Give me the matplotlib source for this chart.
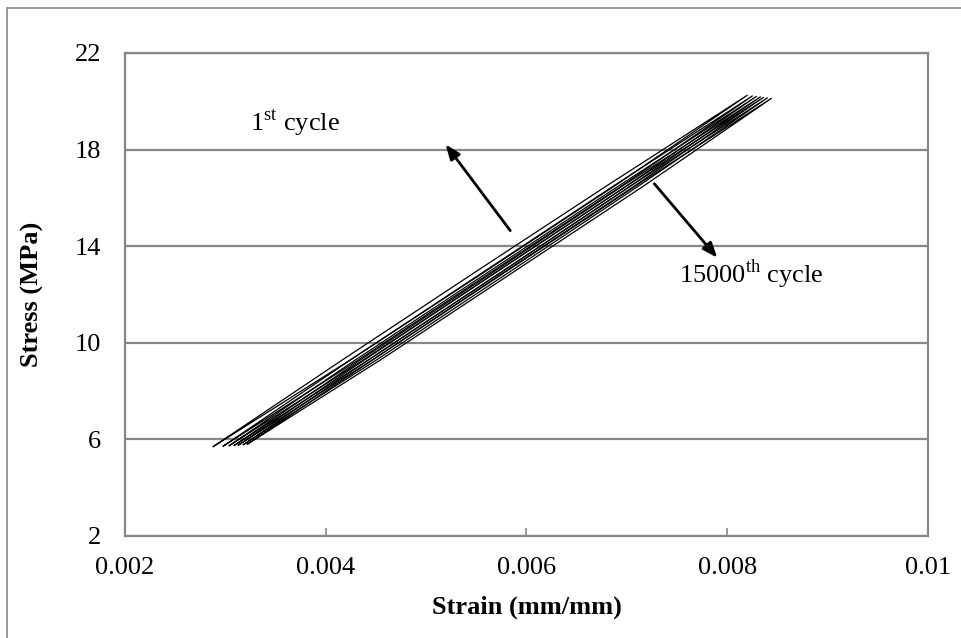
import numpy as np
import matplotlib
matplotlib.use("Agg")
import matplotlib.pyplot as plt
from matplotlib.patches import Rectangle

plt.rcParams['font.family'] = ['Liberation Serif', 'DejaVu Serif']
plt.rcParams['mathtext.fontset'] = 'custom'
plt.rcParams['mathtext.rm'] = 'Liberation Serif'

e_min = [0.00288, 0.00298, 0.00304, 0.00309, 0.00313, 0.00318, 0.00322]
s_min = [5.70, 5.72, 5.74, 5.75, 5.76, 5.78, 5.80]
e_max = [0.00820, 0.00825, 0.00829, 0.00833, 0.00836, 0.00840, 0.00844]
s_max = [20.25, 20.22, 20.20, 20.18, 20.16, 20.14, 20.12]

# intermediate stress levels and the strains on loading / unloading branches
s_mid = [9.3, 12.9, 16.5]
e_load = [
    [0.00425, 0.00557, 0.00688],
    [0.00433, 0.00564, 0.00695],
    [0.00438, 0.00569, 0.00700],
    [0.00443, 0.00574, 0.00704],
    [0.00447, 0.00577, 0.00708],
    [0.00451, 0.00582, 0.00712],
    [0.00455, 0.00586, 0.00717],
]
e_unload = [
    [0.00417, 0.00548, 0.00680],
    [0.00425, 0.00556, 0.00687],
    [0.00430, 0.00561, 0.00692],
    [0.00435, 0.00566, 0.00696],
    [0.00439, 0.00569, 0.00700],
    [0.00443, 0.00574, 0.00704],
    [0.00447, 0.00578, 0.00709],
]

x_ticks = [0.002, 0.004, 0.006, 0.008, 0.01]
x_tick_labels = ['0.002', '0.004', '0.006', '0.008', '0.01']
y_ticks = [2, 6, 10, 14, 18, 22]

grey = '#878787'
fs = 19

fig = plt.figure(figsize=(9.61, 6.38), dpi=100)
ax = fig.add_axes([0.130, 0.160, 0.8357, 0.757])

for i in range(len(e_min)):
    xs = [e_min[i]] + e_load[i] + [e_max[i]] + e_unload[i][::-1] + [e_min[i]]
    ys = [s_min[i]] + s_mid + [s_max[i]] + s_mid[::-1] + [s_min[i]]
    ax.plot(xs, ys, color='black', lw=0.9, zorder=3)

ax.set_xlim(0.002, 0.01)
ax.set_ylim(2, 22)
ax.set_xticks(x_ticks)
ax.set_xticklabels(x_tick_labels)
ax.set_yticks(y_ticks)
ax.yaxis.grid(True, color=grey, lw=1.6)
ax.set_axisbelow(True)
for sp in ax.spines.values():
    sp.set_color(grey)
    sp.set_linewidth(1.6)
ax.tick_params(axis='x', direction='in', length=6, width=1.2, color=grey,
               labelsize=fs, pad=15)
ax.tick_params(axis='y', length=0, labelsize=fs, pad=17)

ax.set_xlabel('Strain (mm/mm)', fontsize=fs, fontweight='bold', labelpad=12)
ax.set_ylabel('Stress (MPa)', fontsize=fs, fontweight='bold', labelpad=22)

arrow = dict(arrowstyle='-|>,head_length=0.9,head_width=0.35', color='black', lw=2)
ax.annotate('', xy=(0.005177, 18.31), xytext=(0.005855, 14.55), arrowprops=arrow)
ax.annotate('', xy=(0.007919, 13.43), xytext=(0.007256, 16.67), arrowprops=arrow)
ax.text(0.003693, 19.1, r'1$^{\mathrm{st}}$ cycle', fontsize=fs, ha='center', va='center')
ax.text(0.008235, 12.85, r'15000$^{\mathrm{th}}$ cycle', fontsize=fs, ha='center', va='center')

fig.patches.append(Rectangle((7 / 961, -0.05), 1.0, 1 - 8 / 638 + 0.05,
                             transform=fig.transFigure, fill=False,
                             edgecolor=grey, lw=1.2))

fig.savefig('out.png', dpi=100)
